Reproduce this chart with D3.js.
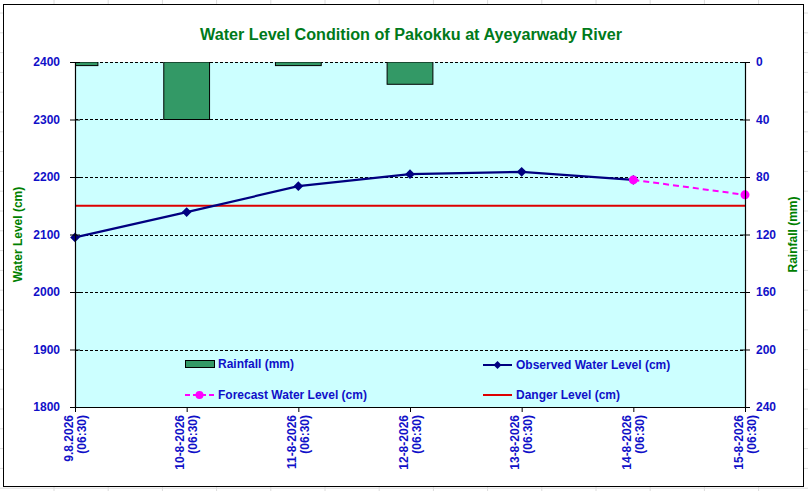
<!DOCTYPE html>
<html>
<head>
<meta charset="utf-8">
<script src="https://cdn.jsdelivr.net/npm/d3@7"></script>
<style>
html,body{margin:0;padding:0;background:#fff;}
svg{display:block;}
text{font-family:"Liberation Sans",Arial,sans-serif;font-weight:bold;}
</style>
</head>
<body>
<svg id="chart" width="808" height="491"></svg>
<script>
// ---- data ----
const dateLabels = ["9.8.2026","10-8-2026","11-8-2026","12-8-2026","13-8-2026","14-8-2026","15-8-2026"];
const timeLabels = ["(06:30)","(06:30)","(06:30)","(06:30)","(06:30)","(06:30)","(06:30)"];
const rainfallMm = [2.5, 40, 2.5, 15.5, 0, 0, 0];
const observedLevel = [2095, 2139, 2184, 2205, 2209, 2195, null];
const forecastLevel = [null, null, null, null, null, 2195, 2169];
const dangerLevel = [2150, 2150, 2150, 2150, 2150, 2150, 2150];
const leftTicks = [1800, 1900, 2000, 2100, 2200, 2300, 2400];
const rightTicks = [0, 40, 80, 120, 160, 200, 240];
const titleText = "Water Level Condition of Pakokku at Ayeyarwady River";

// ---- layout ----
const svg = d3.select("#chart");
const W = 808, H = 491;
const plot = {l: 75, r: 745, t: 62, b: 407};
const blue = "#1010c8", green = "#008000";

// spreadsheet grid in the background
const bg = svg.append("g");
for (let x = 54; x < W; x += 54.2) bg.append("line").attr("x1", x).attr("x2", x).attr("y1", 0).attr("y2", H).attr("stroke", "#dcdcdc");
for (let y = 13; y < H; y += 19.8) bg.append("line").attr("x1", 0).attr("x2", W).attr("y1", y).attr("y2", y).attr("stroke", "#dcdcdc");

// chart area
svg.append("rect").attr("x", 3.5).attr("y", 4.5).attr("width", 800).attr("height", 482)
  .attr("fill", "#fff").attr("stroke", "#000").attr("stroke-width", 1);

const x = d3.scalePoint().domain(d3.range(dateLabels.length)).range([plot.l, plot.r]);
const yL = d3.scaleLinear().domain([1800, 2400]).range([plot.b, plot.t]);
const yR = d3.scaleLinear().domain([0, 240]).range([plot.t, plot.b]);

svg.append("defs").append("clipPath").attr("id", "clip")
  .append("rect").attr("x", plot.l).attr("y", plot.t).attr("width", plot.r - plot.l).attr("height", plot.b - plot.t);

svg.append("rect").attr("x", plot.l).attr("y", plot.t).attr("width", plot.r - plot.l).attr("height", plot.b - plot.t)
  .attr("fill", "#ccffff");

// gridlines
svg.append("g").selectAll("line").data(leftTicks.filter(d => d > 1800)).join("line")
  .attr("x1", plot.l).attr("x2", plot.r)
  .attr("y1", d => Math.round(yL(d)) + 0.5).attr("y2", d => Math.round(yL(d)) + 0.5)
  .attr("stroke", "#000").attr("stroke-width", 1).attr("stroke-dasharray", "3,2");

// bars
const step = x.step();
const bw = step * 0.41;
svg.append("g").attr("clip-path", "url(#clip)").selectAll("rect").data(rainfallMm).join("rect")
  .attr("x", (d, i) => x(i) - bw / 2)
  .attr("y", yR(0))
  .attr("width", bw)
  .attr("height", d => yR(d) - yR(0))
  .attr("fill", "#339966").attr("stroke", "#000").attr("stroke-width", 1)
  .style("display", d => d > 0 ? null : "none");

// danger line
svg.append("path").datum(dangerLevel.map((v, i) => [x(i), yL(v)]))
  .attr("d", d3.line()).attr("fill", "none").attr("stroke", "#dd0000").attr("stroke-width", 2);

// observed
const obs = observedLevel.map((v, i) => v == null ? null : [x(i), yL(v)]).filter(d => d);
svg.append("path").datum(obs).attr("d", d3.line()).attr("fill", "none").attr("stroke", "#000080").attr("stroke-width", 2.2);
svg.append("g").selectAll("path").data(obs).join("path")
  .attr("d", d3.symbol(d3.symbolDiamond2, 60))
  .attr("transform", d => `translate(${d[0]},${d[1]})`)
  .attr("fill", "#000080");

// forecast
const fc = forecastLevel.map((v, i) => v == null ? null : [x(i), yL(v)]).filter(d => d);
svg.append("path").datum(fc).attr("d", d3.line()).attr("fill", "none").attr("stroke", "#ff00ff").attr("stroke-width", 2).attr("stroke-dasharray", "6,4");
svg.append("g").selectAll("circle").data(fc).join("circle")
  .attr("cx", d => d[0]).attr("cy", d => d[1]).attr("r", 4.5).attr("fill", "#ff00ff");

// axes
const axL = d3.axisLeft(yL).tickValues(leftTicks).tickFormat(d3.format("d")).tickSizeInner(5).tickSizeOuter(0).tickPadding(10);
const gL = svg.append("g").attr("transform", `translate(${plot.l},0)`).call(axL);
const axR = d3.axisRight(yR).tickValues(rightTicks).tickFormat(d3.format("d")).tickSizeInner(5).tickSizeOuter(0).tickPadding(6);
const gR = svg.append("g").attr("transform", `translate(${plot.r},0)`).call(axR);
const axB = d3.axisBottom(x).tickSizeInner(5).tickSizeOuter(0).tickFormat("");
const gB = svg.append("g").attr("transform", `translate(0,${plot.b})`).call(axB);
[gL, gR, gB].forEach(g => {
  g.select(".domain").attr("stroke", "#000").attr("stroke-width", 1.2);
  g.selectAll(".tick line").attr("stroke", "#000");
  g.selectAll("text").attr("fill", blue).style("font-size", "12px").style("font-weight", "bold").attr("font-family", "Liberation Sans, Arial, sans-serif");
});
// crossing ticks
gL.selectAll(".tick line").attr("x1", 5).attr("x2", -5);
gR.selectAll(".tick line").attr("x1", -5).attr("x2", 5);

// x labels
const xl = svg.append("g");
dateLabels.forEach((lab, i) => {
  const g = xl.append("g").attr("transform", `translate(${x(i)},415) rotate(-90)`);
  g.append("text").attr("x", 0).attr("y", -6.5).attr("dy", "0.35em").attr("text-anchor", "end")
    .attr("fill", blue).style("font-size", "12px").text(lab);
  g.append("text").attr("x", 0).attr("y", 6.5).attr("dy", "0.35em").attr("text-anchor", "end")
    .attr("fill", blue).style("font-size", "12px").text(timeLabels[i]);
});

// title
svg.append("text").attr("x", 411).attr("y", 40).attr("text-anchor", "middle")
  .attr("fill", "#007a1a").style("font-size", "16px")
  .attr("font-family", "DejaVu Sans, sans-serif")
  .attr("textLength", 422).attr("lengthAdjust", "spacingAndGlyphs").text(titleText);

// axis titles
svg.append("text").attr("transform", `translate(22,${(plot.t + plot.b) / 2}) rotate(-90)`)
  .attr("text-anchor", "middle").attr("fill", green).style("font-size", "12px").text("Water Level (cm)");
svg.append("text").attr("transform", `translate(797,${(plot.t + plot.b) / 2}) rotate(-90)`)
  .attr("text-anchor", "middle").attr("fill", green).style("font-size", "12px").text("Rainfall (mm)");

// legend
const lg = svg.append("g");
const leg = [
  {type: "bar", label: "Rainfall (mm)", x: 185, y: 364},
  {type: "obs", label: "Observed Water Level (cm)", x: 483, y: 365},
  {type: "fc", label: "Forecast Water Level (cm)", x: 185, y: 395},
  {type: "danger", label: "Danger Level (cm)", x: 483, y: 395}
];
leg.forEach(e => {
  if (e.type === "bar") {
    lg.append("rect").attr("x", e.x + 0.5).attr("y", e.y - 3.5).attr("width", 29).attr("height", 7)
      .attr("fill", "#339966").attr("stroke", "#000");
  } else if (e.type === "obs") {
    lg.append("line").attr("x1", e.x).attr("x2", e.x + 29).attr("y1", e.y).attr("y2", e.y).attr("stroke", "#000080").attr("stroke-width", 2);
    lg.append("path").attr("d", d3.symbol(d3.symbolDiamond2, 40)).attr("transform", `translate(${e.x + 14.5},${e.y})`).attr("fill", "#000080");
  } else if (e.type === "fc") {
    lg.append("line").attr("x1", e.x).attr("x2", e.x + 29).attr("y1", e.y).attr("y2", e.y).attr("stroke", "#ff00ff").attr("stroke-width", 2).attr("stroke-dasharray", "5,3");
    lg.append("circle").attr("cx", e.x + 14.5).attr("cy", e.y).attr("r", 4).attr("fill", "#ff00ff");
  } else {
    lg.append("line").attr("x1", e.x).attr("x2", e.x + 29).attr("y1", e.y).attr("y2", e.y).attr("stroke", "#dd0000").attr("stroke-width", 2);
  }
  lg.append("text").attr("x", e.x + 33).attr("y", e.y).attr("dy", "0.36em")
    .attr("fill", blue).style("font-size", "12px").text(e.label);
});
</script>
</body>
</html>
